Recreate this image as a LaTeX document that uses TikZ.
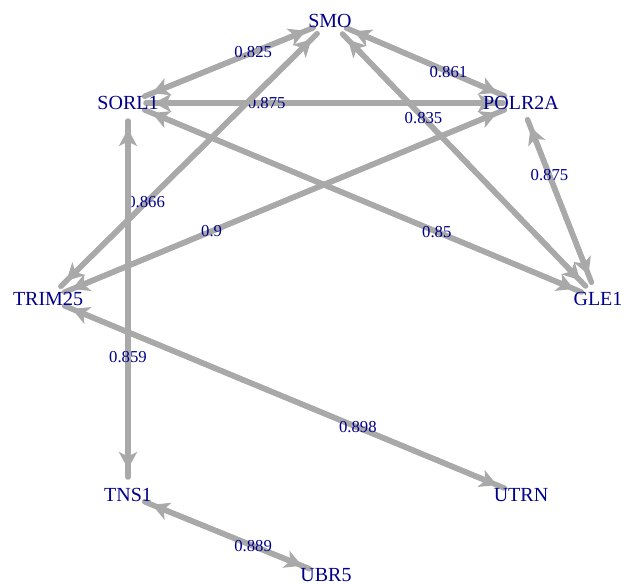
\documentclass[tikz,border=0pt]{standalone}
\usepackage{fontspec}
\setmainfont{Liberation Serif}
\usetikzlibrary{arrows.meta,backgrounds}
\definecolor{edgegray}{HTML}{A9A9A9}
\definecolor{labblue}{HTML}{00008B}
\tikzset{
  vlabel/.style={text=labblue, font=\fontsize{20}{24}\selectfont, inner sep=0pt},
  elabel/.style={text=labblue, font=\fontsize{16.7}{20}\selectfont, inner sep=0pt},
  igtip/.tip={Stealth[length=17pt,width=18pt,inset=4.5pt]},
  edge/.style={draw=edgegray, line width=5.5pt, line cap=round,
    shorten <=18pt, shorten >=18pt,
    postaction={draw=edgegray, line width=5.5pt, shorten <=26pt, shorten >=26pt, arrows={igtip-igtip}}},
}
\begin{document}
\begin{tikzpicture}[x=1pt,y=-1pt]
\useasboundingbox (0,0) rectangle (626,585);
\node[vlabel] (SMO) at (330,21) {SMO};
\node[vlabel] (SORL1) at (128,103) {SORL1};
\node[vlabel] (POLR2A) at (521,103) {POLR2A};
\node[vlabel] (TRIM25) at (48,299) {TRIM25};
\node[vlabel] (GLE1) at (598,299) {GLE1};
\node[vlabel] (TNS1) at (128,495) {TNS1};
\node[vlabel] (UTRN) at (521,495) {UTRN};
\node[vlabel] (UBR5) at (326,575.5) {UBR5};
\begin{scope}[on background layer]
\draw[edge] (SMO.center) -- node[elabel,pos=0.38] (l1) {0.825} (SORL1.center);
\draw[edge] (SMO.center) -- node[elabel,pos=0.62] (l2) {0.861} (POLR2A.center);
\draw[edge] (SORL1.center) -- node[elabel,pos=0.353] (l3) {0.875} (POLR2A.center);
\draw[edge] (SMO.center) -- node[elabel,pos=0.349] (l4) {0.835} (GLE1.center);
\draw[edge] (POLR2A.center) -- node[elabel,pos=0.37] (l5) {0.875} (GLE1.center);
\draw[edge] (SMO.center) -- node[elabel,pos=0.652] (l6) {0.866} (TRIM25.center);
\draw[edge] (POLR2A.center) -- node[elabel,pos=0.654] (l7) {0.9} (TRIM25.center);
\draw[edge] (SORL1.center) -- node[elabel,pos=0.657] (l8) {0.85} (GLE1.center);
\draw[edge] (SORL1.center) -- node[elabel,pos=0.649] (l9) {0.859} (TNS1.center);
\draw[edge] (TRIM25.center) -- node[elabel,pos=0.655] (l10) {0.898} (UTRN.center);
\draw[edge] (TNS1.center) -- node[elabel,pos=0.632] (l11) {0.889} (UBR5.center);
\end{scope}
\end{tikzpicture}
\end{document}
